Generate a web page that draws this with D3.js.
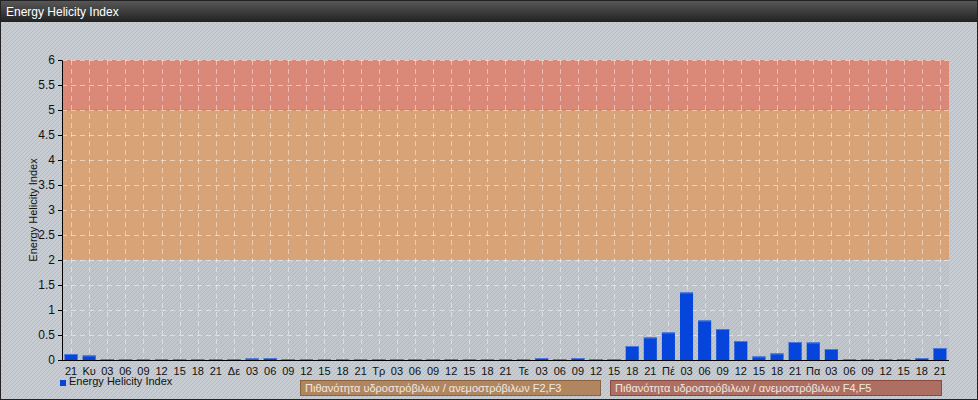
<!DOCTYPE html>
<html><head><meta charset="utf-8">
<script src="https://cdn.jsdelivr.net/npm/d3@7"></script>
<style>
html,body{margin:0;padding:0;background:#fff;}
svg{display:block;font-family:"Liberation Sans",Arial,sans-serif;}
</style></head>
<body>
<svg id="c" width="978" height="400"></svg>
<script>
const categories = ["21","Κυ","03","06","09","12","15","18","21","Δε","03","06","09","12","15","18","21","Τρ","03","06","09","12","15","18","21","Τε","03","06","09","12","15","18","21","Πέ","03","06","09","12","15","18","21","Πα","03","06","09","12","15","18","21"];
const values = [0.12,0.09,0.02,0.02,0.02,0.02,0.02,0.02,0.02,0.02,0.03,0.04,0.02,0.02,0.02,0.02,0.02,0.02,0.02,0.02,0.02,0.02,0.02,0.02,0.02,0.02,0.04,0.02,0.04,0.02,0.02,0.28,0.45,0.55,1.35,0.79,0.62,0.38,0.07,0.13,0.36,0.35,0.22,0.02,0.02,0.02,0.02,0.04,0.24];
const yTicks = [0,0.5,1,1.5,2,2.5,3,3.5,4,4.5,5,5.5,6];
const bands = [
  {from:5, to:6, fill:"#dc8270"},
  {from:2, to:5, fill:"#daa170"}
];
const legendItems = ["Energy Helicity Index","Πιθανότητα υδροστρόβιλων / ανεμοστρόβιλων F2,F3","Πιθανότητα υδροστρόβιλων / ανεμοστρόβιλων F4,F5"];
const title = "Energy Helicity Index";

const W = 978, H = 400;
const svg = d3.select("#c");
const defs = svg.append("defs");
const pat = defs.append("pattern").attr("id","stripes").attr("patternUnits","userSpaceOnUse")
  .attr("width",4).attr("height",4);
pat.append("rect").attr("width",4).attr("height",4).attr("fill","#c7cdd2");
pat.append("path").attr("d","M-1,1 l2,-2 M0,4 l4,-4 M3,5 l2,-2").attr("stroke","#b6bcc2").attr("stroke-width",1);

const tg = defs.append("linearGradient").attr("id","tbar").attr("x1",0).attr("x2",0).attr("y1",0).attr("y2",1);
tg.append("stop").attr("offset","0%").attr("stop-color","#5a5a5a");
tg.append("stop").attr("offset","100%").attr("stop-color","#222");

svg.append("rect").attr("width",W).attr("height",H).attr("fill","url(#stripes)");
svg.append("rect").attr("x",0).attr("y",0).attr("width",W).attr("height",22).attr("fill","url(#tbar)");
svg.append("text").attr("x",6).attr("y",15.5).attr("fill","#fff").attr("font-size",12).text(title);
svg.append("rect").attr("x",0.5).attr("y",0.5).attr("width",W-1).attr("height",H-1).attr("fill","none").attr("stroke","#222");

const m = {l:62, r:949, t:60, b:360};
const x = d3.scaleBand().domain(d3.range(categories.length)).range([m.l, m.r]).paddingInner(0.28).paddingOuter(0.14);
const y = d3.scaleLinear().domain([0,6]).range([m.b, m.t]);

const g = svg.append("g");
g.append("rect").attr("x",m.l).attr("y",m.t).attr("width",m.r-m.l).attr("height",m.b-m.t).attr("fill","#9aa0a6").attr("opacity",0.12);
bands.forEach(b=>{
  g.append("rect").attr("x",m.l).attr("width",m.r-m.l).attr("y",y(b.to)).attr("height",y(b.from)-y(b.to))
    .attr("fill",b.fill).attr("opacity",0.92);
});
g.append("line").attr("x1",m.l).attr("x2",m.r).attr("y1",y(5)).attr("y2",y(5)).attr("stroke","#e8703e").attr("stroke-width",1.2).attr("opacity",0.8);

g.selectAll(".hg").data(yTicks.filter(d=>d>0)).join("line")
  .attr("x1",m.l).attr("x2",m.r).attr("y1",d=>Math.round(y(d))+0.5).attr("y2",d=>Math.round(y(d))+0.5)
  .attr("stroke","#fff").attr("stroke-opacity",0.5).attr("stroke-dasharray","5,4");
g.selectAll(".vg").data(d3.range(categories.length)).join("line")
  .attr("x1",d=>Math.round(x(d)+x.bandwidth()/2)+0.5).attr("x2",d=>Math.round(x(d)+x.bandwidth()/2)+0.5)
  .attr("y1",m.t).attr("y2",m.b)
  .attr("stroke","#fff").attr("stroke-opacity",0.45).attr("stroke-dasharray","5,4");

g.selectAll(".bar").data(values).join("rect")
  .attr("x",(d,i)=>x(i)).attr("width",x.bandwidth())
  .attr("y",d=>y(d)).attr("height",d=>y(0)-y(d))
  .attr("fill","#0645db");
g.selectAll(".bartop").data(values).join("line")
  .attr("x1",(d,i)=>x(i)).attr("x2",(d,i)=>x(i)+x.bandwidth())
  .attr("y1",d=>y(d)+0.5).attr("y2",d=>y(d)+0.5)
  .attr("stroke","#4a78e0").attr("stroke-width",1);

const ya = d3.axisLeft(y).tickValues(yTicks).tickFormat(d=>d3.format("")(d)).tickSize(4).tickPadding(3);
const yg = svg.append("g").attr("transform",`translate(${m.l},0)`).call(ya);
yg.select(".domain").attr("stroke","#000");
yg.selectAll("text").attr("font-size",12).attr("fill","#111").attr("font-family","Liberation Sans, Arial, sans-serif");

const xa = d3.axisBottom(x).tickFormat(i=>categories[i]).tickSize(0).tickPadding(7);
const xg = svg.append("g").attr("transform",`translate(0,${m.b})`).call(xa);
xg.select(".domain").attr("stroke","#000").attr("d",`M${m.l},0.5H${m.r}`);
xg.selectAll("text").attr("font-size",11).attr("fill","#111").attr("font-family","Liberation Sans, Arial, sans-serif");

svg.append("text").attr("transform","translate(37,210) rotate(-90)").attr("text-anchor","middle")
  .attr("font-size",11).attr("fill","#111").text("Energy Helicity Index");

svg.append("rect").attr("x",60).attr("y",380).attr("width",6).attr("height",6).attr("fill","#0645db");
svg.append("text").attr("x",69).attr("y",385).attr("font-size",11).attr("fill","#111").text(legendItems[0]);

const boxes = [
  {x:300, w:300, fill:"#b08660", stroke:"#8a6240"},
  {x:610, w:331, fill:"#ad6f62", stroke:"#8a4a40"}
];
boxes.forEach((b,i)=>{
  svg.append("rect").attr("x",b.x+0.5).attr("y",380.5).attr("width",b.w).attr("height",15)
    .attr("fill",b.fill).attr("stroke",b.stroke);
  svg.append("text").attr("x",b.x+5).attr("y",392).attr("font-size",11).attr("fill","#f3e8e0").text(legendItems[i+1]);
});
</script>
</body></html>
